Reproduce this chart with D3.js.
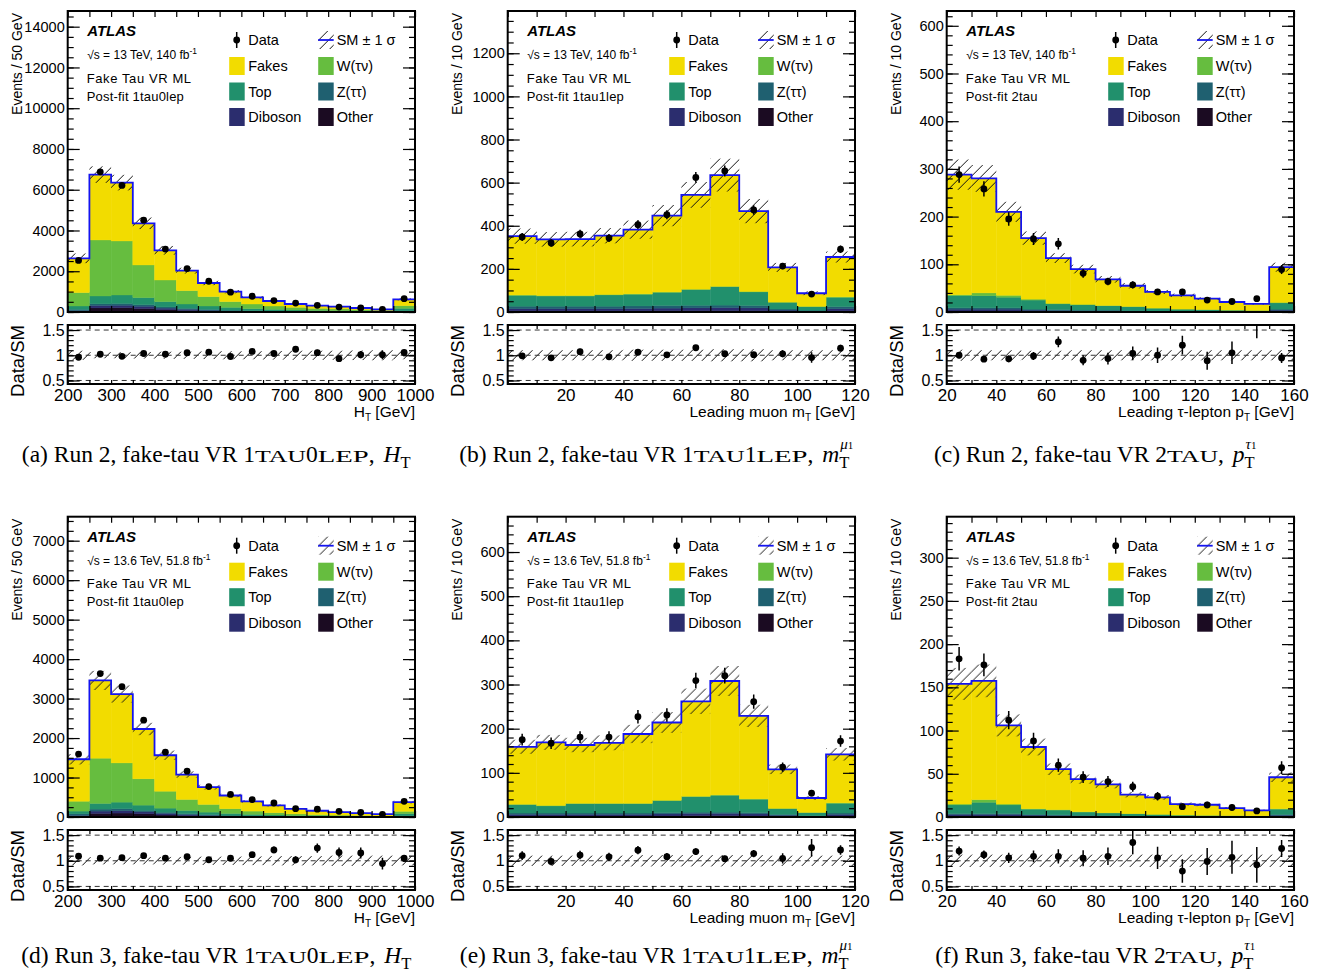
<!DOCTYPE html>
<html>
<head>
<meta charset="utf-8">
<script src="https://cdn.jsdelivr.net/npm/d3@7"></script>
<style>
body { margin: 0; background: #fff; }
svg text { font-family: "Liberation Sans", Arial, sans-serif; fill: #000; }
</style>
</head>
<body>
<div id="vis"></div>
<script>
// bin edges and tick labels
var edgesHT = [200,250,300,350,400,450,500,550,600,650,700,750,800,850,900,950,1000];
var edgesMT = [0,10,20,30,40,50,60,70,80,90,100,110,120];
var edgesPT = [20,30,40,50,60,70,80,90,100,110,120,130,140,150,160];
var xTicksHT = [200,300,400,500,600,700,800,900,1000];
var xTicksMT = [20,40,60,80,100,120];
var xTicksPT = [20,40,60,80,100,120,140,160];
var yTicksA = [0,2000,4000,6000,8000,10000,12000,14000];
var yTicksB = [0,200,400,600,800,1000,1200];
var yTicksC = [0,100,200,300,400,500,600];
var yTicksD = [0,1000,2000,3000,4000,5000,6000,7000];
var yTicksE = [0,100,200,300,400,500,600];
var yTicksF = [0,50,100,150,200,250,300];
var ratioTicks = [0.5,1,1.5];

// (a) Run 2, 1tau0lep, HT
var r2htOther   = [30,200,210,170,110,70,40,25,15,10,8,6,5,4,3,10];
var r2htDiboson = [40,120,120,110,80,60,45,35,25,20,15,12,10,8,6,25];
var r2htZtt     = [60,80,90,80,60,50,40,30,25,20,15,12,10,8,6,25];
var r2htTop     = [165,386,415,344,257,213,170,139,99,81,60,50,40,32,25,120];
var r2htWtv     = [655,2749,2651,1604,1064,654,458,278,229,164,131,100,85,65,45,130];
var r2htFakes   = [1685,3208,2864,2045,1457,983,671,491,327,245,164,131,112,79,46,312];
var r2htData    = [2530,6880,6210,4505,3090,2130,1510,973,774,559,440,327,244,198,132,656];
var r2htUnc     = [0.09,0.06,0.06,0.065,0.07,0.07,0.075,0.08,0.08,0.085,0.09,0.09,0.09,0.095,0.1,0.08];

// (b) Run 2, 1tau1lep, mT(mu1)
var r2mtOther   = [5,5,5,5,5,6,6,6,6,3,2,5];
var r2mtDiboson = [10,10,10,10,11,12,13,14,13,6,3,10];
var r2mtZtt     = [12,12,12,12,12,12,12,12,11,5,3,10];
var r2mtTop     = [50,47,47,52,54,61,73,85,63,31,17,43];
var r2mtWtv     = [2,2,2,2,2,2,2,2,2,1,1,2];
var r2mtFakes   = [273,261,262,273,298,354,437,516,373,161,61,185];
var r2mtData    = [348,320,362,343,405,451,624,654,473,213,83,291];
var r2mtUnc     = [0.1,0.1,0.1,0.1,0.11,0.11,0.11,0.12,0.12,0.1,0.1,0.1];

// (c) Run 2, 2tau, pT(tau1)
var r2ptOther   = [2,2,2,1,1,1,1,0.5,0.5,0.3,0.2,0.2,0.1,1];
var r2ptDiboson = [4,4,4,3,2,2,2,1.5,1,0.8,0.6,0.5,0.4,3];
var r2ptZtt     = [3,3,3,2,2,1,1,1,0.5,0.4,0.3,0.3,0.2,2];
var r2ptTop     = [25,25,22,19,12,11,9,8,6,4.5,3.8,3,2.5,13];
var r2ptWtv     = [2,6,4,2,1,1,0.5,0.5,0.3,0.2,0.1,0.1,0.1,1];
var r2ptFakes   = [252,240,175,128,95,74,55,43.5,33.7,28.8,23,16.9,13.7,74];
var r2ptData    = [288,258,195,153,143,81,64,57,42,42,25,22,28,89];
var r2ptUnc     = [0.11,0.1,0.1,0.09,0.09,0.1,0.1,0.1,0.1,0.1,0.1,0.1,0.1,0.1];

// (d) Run 3, 1tau0lep, HT
var r3htOther   = [15,90,100,80,50,30,18,12,8,5,4,3,2,2,1,5];
var r3htDiboson = [25,60,60,50,40,30,22,15,11,8,6,5,4,3,2,12];
var r3htZtt     = [40,50,50,40,30,25,20,13,10,8,6,5,4,3,2,12];
var r3htTop     = [70,143,167,131,105,81,64,50,38,30,22,17,14,11,8,55];
var r3htWtv     = [250,1147,993,665,429,278,194,118,83,56,40,30,24,19,14,60];
var r3htFakes   = [1063,1970,1745,1264,911,632,438,337,244,186,130,98,76,61,46,233];
var r3htData    = [1595,3633,3302,2453,1643,1162,771,572,441,355,212,197,144,114,69,396];
var r3htUnc     = [0.09,0.07,0.07,0.07,0.075,0.075,0.08,0.08,0.085,0.09,0.09,0.09,0.1,0.1,0.1,0.09];

// (e) Run 3, 1tau1lep, mT(mu1)
var r3mtOther   = [2,2,2,2,2,2,3,3,2,1,0.5,2];
var r3mtDiboson = [4,4,4,4,4,5,5,5,5,3,1.5,4];
var r3mtZtt     = [3,3,3,3,3,3,3,3,3,2,1,3];
var r3mtTop     = [19,16,21,21,21,27,35,38,30,13,7,22];
var r3mtWtv     = [1,1,1,1,1,1,1,1,1,0.5,0.3,1];
var r3mtFakes   = [130,143,132,137,157,176,215,258,188,88.5,32.7,110];
var r3mtData    = [175,167,181,181,227,231,309,320,261,113,54,172];
var r3mtUnc     = [0.1,0.1,0.1,0.1,0.11,0.11,0.11,0.11,0.11,0.1,0.1,0.1];

// (f) Run 3, 2tau, pT(tau1)
var r3ptOther   = [1,1,1,0.7,0.5,0.4,0.3,0.2,0.2,0.1,0.1,0.1,0.1,0.5];
var r3ptDiboson = [2,2,2,1.5,1.2,1,0.8,0.6,0.5,0.4,0.3,0.3,0.2,1.5];
var r3ptZtt     = [1,1,1,0.8,0.8,0.5,0.4,0.3,0.3,0.2,0.2,0.1,0.1,1];
var r3ptTop     = [10,13,10,6,5.5,3.8,3.1,2.5,2,1.5,1.3,1,0.8,6];
var r3ptWtv     = [1,3,1,0.5,0.4,0.3,0.2,0.2,0.1,0.1,0.1,0.1,0.1,0.5];
var r3ptFakes   = [139,137.5,91,71.5,46.9,37.8,32.9,22,19.6,12.7,12.2,8.7,6.3,36.5];
var r3ptData    = [183,176,112,88,60,46,41,35,24,12,14,11,7,57];
var r3ptUnc     = [0.12,0.12,0.12,0.12,0.12,0.12,0.12,0.12,0.12,0.12,0.12,0.12,0.12,0.12];

// stack order, bottom to top
var keys = ["other","diboson","ztt","top","wtv","fakes"];
var colors = {fakes:"#f2dc00", wtv:"#66bd3f", top:"#21906c", ztt:"#1f6070", diboson:"#2b2d6e", other:"#1b0b22"};
var legendRows = [["fakes","Fakes","wtv","W(\u03c4\u03bd)"],["top","Top","ztt","Z(\u03c4\u03c4)"],["diboson","Diboson","other","Other"]];

var PW = 347.3;
var SERIF = '"Liberation Serif","Times New Roman",serif';

var panels = [
  {left:67.7, top:11, mainH:301, ratioTop:325, ratioH:59, capY:462, edges:edgesHT, xTicks:xTicksHT,
   comps:{other:r2htOther,diboson:r2htDiboson,ztt:r2htZtt,top:r2htTop,wtv:r2htWtv,fakes:r2htFakes},
   data:r2htData, unc:r2htUnc, ymax:14770, yTicks:yTicksA, yMinor:500, yTitle:"Events / 50 GeV",
   xTitle:[["H",""],["T","sub"],[" [GeV]",""]], energy:"13 TeV, 140 fb", post:"Post-fit 1tau0lep",
   cap:{letter:"a", run:"2", region:"1tau0lep", v:"H", sup:null}},
  {left:507.7, top:11, mainH:301, ratioTop:325, ratioH:59, capY:462, edges:edgesMT, xTicks:xTicksMT,
   comps:{other:r2mtOther,diboson:r2mtDiboson,ztt:r2mtZtt,top:r2mtTop,wtv:r2mtWtv,fakes:r2mtFakes},
   data:r2mtData, unc:r2mtUnc, ymax:1396, yTicks:yTicksB, yMinor:50, yTitle:"Events / 10 GeV",
   xTitle:[["Leading muon m",""],["T","sub"],[" [GeV]",""]], energy:"13 TeV, 140 fb", post:"Post-fit 1tau1lep",
   cap:{letter:"b", run:"2", region:"1tau1lep", v:"m", sup:["\u03bc","1"]}},
  {left:946.7, top:11, mainH:301, ratioTop:325, ratioH:59, capY:462, edges:edgesPT, xTicks:xTicksPT,
   comps:{other:r2ptOther,diboson:r2ptDiboson,ztt:r2ptZtt,top:r2ptTop,wtv:r2ptWtv,fakes:r2ptFakes},
   data:r2ptData, unc:r2ptUnc, ymax:631, yTicks:yTicksC, yMinor:20, yTitle:"Events / 10 GeV",
   xTitle:[["Leading \u03c4-lepton p",""],["T","sub"],[" [GeV]",""]], energy:"13 TeV, 140 fb", post:"Post-fit 2tau",
   cap:{letter:"c", run:"2", region:"2tau", v:"p", sup:["\u03c4","1"]}},
  {left:67.7, top:516.7, mainH:300.3, ratioTop:830, ratioH:60, capY:963, edges:edgesHT, xTicks:xTicksHT,
   comps:{other:r3htOther,diboson:r3htDiboson,ztt:r3htZtt,top:r3htTop,wtv:r3htWtv,fakes:r3htFakes},
   data:r3htData, unc:r3htUnc, ymax:7608, yTicks:yTicksD, yMinor:250, yTitle:"Events / 50 GeV",
   xTitle:[["H",""],["T","sub"],[" [GeV]",""]], energy:"13.6 TeV, 51.8 fb", post:"Post-fit 1tau0lep",
   cap:{letter:"d", run:"3", region:"1tau0lep", v:"H", sup:null}},
  {left:507.7, top:516.7, mainH:300.3, ratioTop:830, ratioH:60, capY:963, edges:edgesMT, xTicks:xTicksMT,
   comps:{other:r3mtOther,diboson:r3mtDiboson,ztt:r3mtZtt,top:r3mtTop,wtv:r3mtWtv,fakes:r3mtFakes},
   data:r3mtData, unc:r3mtUnc, ymax:680, yTicks:yTicksE, yMinor:20, yTitle:"Events / 10 GeV",
   xTitle:[["Leading muon m",""],["T","sub"],[" [GeV]",""]], energy:"13.6 TeV, 51.8 fb", post:"Post-fit 1tau1lep",
   cap:{letter:"e", run:"3", region:"1tau1lep", v:"m", sup:["\u03bc","1"]}},
  {left:946.7, top:516.7, mainH:300.3, ratioTop:830, ratioH:60, capY:963, edges:edgesPT, xTicks:xTicksPT,
   comps:{other:r3ptOther,diboson:r3ptDiboson,ztt:r3ptZtt,top:r3ptTop,wtv:r3ptWtv,fakes:r3ptFakes},
   data:r3ptData, unc:r3ptUnc, ymax:347.4, yTicks:yTicksF, yMinor:10, yTitle:"Events / 10 GeV",
   xTitle:[["Leading \u03c4-lepton p",""],["T","sub"],[" [GeV]",""]], energy:"13.6 TeV, 51.8 fb", post:"Post-fit 2tau",
   cap:{letter:"f", run:"3", region:"2tau", v:"p", sup:["\u03c4","1"]}}
];

var svg = d3.select("#vis").append("svg")
    .attr("width", 1322)
    .attr("height", 979);
var defs = svg.append("defs");

// hatch for the SM uncertainty
defs.append("pattern")
    .attr("id", "hatch")
    .attr("patternUnits", "userSpaceOnUse")
    .attr("width", 10).attr("height", 10)
  .append("path")
    .attr("d", "M0,10L10,0M-2,2L2,-2M8,12L12,8")
    .attr("stroke", "#111")
    .attr("stroke-width", 1);

function stripDomain(g) { g.select(".domain").remove(); }

// ticks on all four sides, pointing inward
function frameTicks(g, x, y, W, H, yMajor, yMinor, xVals, xLen, yLen) {
  g.append("g").call(d3.axisLeft(y).tickValues(yMinor).tickSize(-yLen / 2).tickFormat("")).call(stripDomain);
  g.append("g").call(d3.axisLeft(y).tickValues(yMajor).tickSize(-yLen).tickFormat("")).call(stripDomain);
  g.append("g").attr("transform", "translate(" + W + ",0)")
    .call(d3.axisRight(y).tickValues(yMinor).tickSize(-yLen / 2).tickFormat("")).call(stripDomain);
  g.append("g").attr("transform", "translate(" + W + ",0)")
    .call(d3.axisRight(y).tickValues(yMajor).tickSize(-yLen).tickFormat("")).call(stripDomain);
  g.append("g").call(d3.axisTop(x).tickValues(xVals).tickSize(-xLen).tickFormat("")).call(stripDomain);
  g.append("g").attr("transform", "translate(0," + H + ")")
    .call(d3.axisBottom(x).tickValues(xVals).tickSize(-xLen).tickFormat("")).call(stripDomain);
  g.selectAll(".tick line").attr("stroke-width", 1.2);
}

function drawPanel(p, idx) {
  var H = p.mainH, RH = p.ratioH;
  var x = d3.scaleLinear().domain([p.edges[0], p.edges[p.edges.length - 1]]).range([0, PW]);
  var y = d3.scaleLinear().domain([0, p.ymax]).range([H, 0]);

  var rows = p.edges.slice(0, -1).map(function(lo, i) {
    var r = {lo: lo, hi: p.edges[i + 1]};
    keys.forEach(function(k) { r[k] = p.comps[k][i]; });
    return r;
  });
  var totals = rows.map(function(r) { return d3.sum(keys, function(k) { return r[k]; }); });
  var series = d3.stack().keys(keys)(rows);
  var pts = rows.map(function(r, i) {
    return {xc: (r.lo + r.hi) / 2, v: p.data[i], e: Math.sqrt(p.data[i]), tot: totals[i]};
  });

  // ---------- main pad ----------
  var g = svg.append("g").attr("transform", "translate(" + p.left + "," + p.top + ")");
  defs.append("clipPath").attr("id", "cm" + idx)
    .append("rect").attr("width", PW).attr("height", H);
  var plot = g.append("g").attr("clip-path", "url(#cm" + idx + ")");

  plot.selectAll("g.layer").data(series).join("g")
      .attr("class", "layer")
      .attr("fill", function(s) { return colors[s.key]; })
      .attr("stroke", function(s) { return colors[s.key]; })
      .attr("stroke-width", 0.4)
    .selectAll("rect").data(function(s) { return s; }).join("rect")
      .attr("x", function(d) { return x(d.data.lo); })
      .attr("width", function(d) { return x(d.data.hi) - x(d.data.lo); })
      .attr("y", function(d) { return y(d[1]); })
      .attr("height", function(d) { return Math.max(0, y(d[0]) - y(d[1])); });

  plot.selectAll("rect.unc").data(rows).join("rect")
      .attr("class", "unc")
      .attr("x", function(d) { return x(d.lo); })
      .attr("width", function(d) { return x(d.hi) - x(d.lo); })
      .attr("y", function(d, i) { return y(totals[i] * (1 + p.unc[i])); })
      .attr("height", function(d, i) { return y(totals[i] * (1 - p.unc[i])) - y(totals[i] * (1 + p.unc[i])); })
      .attr("fill", "url(#hatch)");

  var stepPts = rows.map(function(r, i) { return [r.lo, totals[i]]; });
  stepPts.push([rows[rows.length - 1].hi, totals[totals.length - 1]]);
  plot.append("path")
      .attr("d", d3.line().x(function(d) { return x(d[0]); }).y(function(d) { return y(d[1]); }).curve(d3.curveStepAfter)(stepPts))
      .attr("fill", "none")
      .attr("stroke", "#1414f0")
      .attr("stroke-width", 1.8);

  plot.selectAll("line.err").data(pts).join("line")
      .attr("class", "err")
      .attr("x1", function(d) { return x(d.xc); }).attr("x2", function(d) { return x(d.xc); })
      .attr("y1", function(d) { return y(d.v + d.e); }).attr("y2", function(d) { return y(d.v - d.e); })
      .attr("stroke", "#000").attr("stroke-width", 1.5);
  plot.selectAll("circle.pt").data(pts).join("circle")
      .attr("class", "pt")
      .attr("cx", function(d) { return x(d.xc); })
      .attr("cy", function(d) { return y(d.v); })
      .attr("r", 3.4);

  var minorY = d3.range(0, p.ymax, p.yMinor);
  frameTicks(g, x, y, PW, H, p.yTicks, minorY, p.edges, 6, 12);
  g.append("g")
      .call(d3.axisLeft(y).tickValues(p.yTicks).tickSize(0).tickPadding(3).tickFormat(d3.format("d")))
      .call(stripDomain)
      .attr("font-size", 14.5);
  g.append("rect").attr("width", PW).attr("height", H)
      .attr("fill", "none").attr("stroke", "#000").attr("stroke-width", 2);

  // y title
  svg.append("text")
      .attr("transform", "translate(" + (p.left - 46) + "," + (p.top + 2) + ") rotate(-90)")
      .attr("text-anchor", "end")
      .attr("font-size", 14)
      .text(p.yTitle);

  // labels in the pad
  g.append("text").attr("x", 19.5).attr("y", 25)
      .attr("font-size", 15).attr("font-weight", "bold").attr("font-style", "italic")
      .text("ATLAS");
  var en = g.append("text").attr("x", 19.5).attr("y", 48.3).attr("font-size", 12);
  en.append("tspan").text("\u221as = " + p.energy);
  en.append("tspan").attr("font-size", 8.5).attr("dy", -5).text("-1");
  g.append("text").attr("x", 19).attr("y", 71.7).attr("font-size", 13).attr("letter-spacing", 0.6)
      .text("Fake Tau VR ML");
  g.append("text").attr("x", 19).attr("y", 89.5).attr("font-size", 13).attr("letter-spacing", 0.2)
      .text(p.post);

  // legend
  var lg = g.append("g");
  var ry = [29, 55, 80.5, 106];
  lg.append("line").attr("x1", 169).attr("x2", 169).attr("y1", ry[0] - 8).attr("y2", ry[0] + 8)
      .attr("stroke", "#000").attr("stroke-width", 1.5);
  lg.append("circle").attr("cx", 169).attr("cy", ry[0]).attr("r", 3.4);
  lg.append("text").attr("x", 180.5).attr("y", ry[0] + 5).attr("font-size", 14.5).text("Data");
  lg.append("rect").attr("x", 250.5).attr("y", ry[0] - 9).attr("width", 15.5).attr("height", 18)
      .attr("fill", "url(#hatch)");
  lg.append("line").attr("x1", 250.5).attr("x2", 266).attr("y1", ry[0]).attr("y2", ry[0])
      .attr("stroke", "#1414f0").attr("stroke-width", 1.8);
  lg.append("text").attr("x", 269).attr("y", ry[0] + 5).attr("font-size", 14.5).text("SM \u00b1 1 \u03c3");
  legendRows.forEach(function(row, j) {
    var yy = ry[j + 1];
    [[row[0], row[1], 161.5, 180.5], [row[2], row[3], 250.5, 269]].forEach(function(c) {
      lg.append("rect").attr("x", c[2]).attr("y", yy - 9).attr("width", 15.5).attr("height", 18)
          .attr("fill", colors[c[0]]);
      lg.append("text").attr("x", c[3]).attr("y", yy + 5).attr("font-size", 14.5).text(c[1]);
    });
  });

  // ---------- ratio pad ----------
  var yr = d3.scaleLinear().domain([0.43, 1.6]).range([RH, 0]);
  var rg = svg.append("g").attr("transform", "translate(" + p.left + "," + p.ratioTop + ")");
  defs.append("clipPath").attr("id", "cr" + idx)
    .append("rect").attr("width", PW).attr("height", RH);
  var rplot = rg.append("g").attr("clip-path", "url(#cr" + idx + ")");

  rplot.selectAll("rect.unc").data(rows).join("rect")
      .attr("class", "unc")
      .attr("x", function(d) { return x(d.lo); })
      .attr("width", function(d) { return x(d.hi) - x(d.lo); })
      .attr("y", function(d, i) { return yr(1 + p.unc[i]); })
      .attr("height", function(d, i) { return yr(1 - p.unc[i]) - yr(1 + p.unc[i]); })
      .attr("fill", "url(#hatch)");
  rplot.selectAll("line.ref").data(ratioTicks).join("line")
      .attr("class", "ref")
      .attr("x1", 0).attr("x2", PW)
      .attr("y1", function(d) { return yr(d); }).attr("y2", function(d) { return yr(d); })
      .attr("stroke", "#333").attr("stroke-width", 1).attr("stroke-dasharray", "5,4");
  rplot.selectAll("line.err").data(pts).join("line")
      .attr("class", "err")
      .attr("x1", function(d) { return x(d.xc); }).attr("x2", function(d) { return x(d.xc); })
      .attr("y1", function(d) { return yr((d.v + d.e) / d.tot); })
      .attr("y2", function(d) { return yr((d.v - d.e) / d.tot); })
      .attr("stroke", "#000").attr("stroke-width", 1.5);
  rplot.selectAll("circle.pt").data(pts).join("circle")
      .attr("class", "pt")
      .attr("cx", function(d) { return x(d.xc); })
      .attr("cy", function(d) { return yr(d.v / d.tot); })
      .attr("r", 3.4);

  frameTicks(rg, x, yr, PW, RH, ratioTicks, d3.range(0.5, 1.6, 0.1), p.edges, 4, 12);
  rg.append("g")
      .call(d3.axisLeft(yr).tickValues(ratioTicks).tickSize(0).tickPadding(3).tickFormat(d3.format("")))
      .call(stripDomain)
      .attr("font-size", 16);
  rg.append("g").attr("transform", "translate(0," + RH + ")")
      .call(d3.axisBottom(x).tickValues(p.xTicks).tickSize(0).tickPadding(5).tickFormat(d3.format("d")))
      .call(stripDomain)
      .attr("font-size", 17);
  rg.append("rect").attr("width", PW).attr("height", RH)
      .attr("fill", "none").attr("stroke", "#000").attr("stroke-width", 2);

  svg.append("text")
      .attr("transform", "translate(" + (p.left - 44) + "," + p.ratioTop + ") rotate(-90)")
      .attr("text-anchor", "end")
      .attr("font-size", 18.5)
      .text("Data/SM");

  var xt = rg.append("text")
      .attr("x", PW).attr("y", RH + 33)
      .attr("text-anchor", "end")
      .attr("font-size", 15.5);
  var shift = 0;
  p.xTitle.forEach(function(part) {
    var ts = xt.append("tspan").text(part[0]);
    if (part[1] === "sub") { ts.attr("font-size", 10).attr("dy", 4); shift = 4; }
    else if (shift) { ts.attr("dy", -shift); shift = 0; }
  });

  drawCaption(p);
}

function drawCaption(p) {
  var cg = svg.append("g");
  var t = cg.append("text").style("font-family", SERIF).attr("font-size", 23.5);
  t.append("tspan").text("(" + p.cap.letter + ") Run " + p.cap.run + ", fake-tau VR ");
  // small caps, drawn wide as in the typeset caption
  p.cap.region.split(/(\d+)/).filter(function(s) { return s.length; }).forEach(function(s) {
    if (/\d/.test(s)) t.append("tspan").attr("font-size", 23.5).text(s);
    else t.append("tspan").attr("font-size", 17.5)
        .attr("textLength", s.length * 17).attr("lengthAdjust", "spacingAndGlyphs")
        .text(s.toUpperCase());
  });
  t.append("tspan").attr("font-size", 23.5).text(", ");
  t.append("tspan").attr("dx", 3).style("font-style", "italic").text(p.cap.v);
  t.append("tspan").attr("font-size", 16.5).attr("dy", 5.5).text("T");
  if (p.cap.sup) {
    var n = t.text().length;
    var pos = t.node().getStartPositionOfChar(n - 1);
    var s = cg.append("text").style("font-family", SERIF).attr("x", pos.x + 1).attr("y", -13.5);
    s.append("tspan").style("font-style", "italic").attr("font-size", 15).text(p.cap.sup[0]);
    s.append("tspan").attr("font-size", 11).text(p.cap.sup[1]);
  }
  var bb = cg.node().getBBox();
  cg.attr("transform", "translate(" + (p.left + 148.5 - bb.x - bb.width / 2) + "," + p.capY + ")");
}

panels.forEach(drawPanel);
</script>
</body>
</html>
